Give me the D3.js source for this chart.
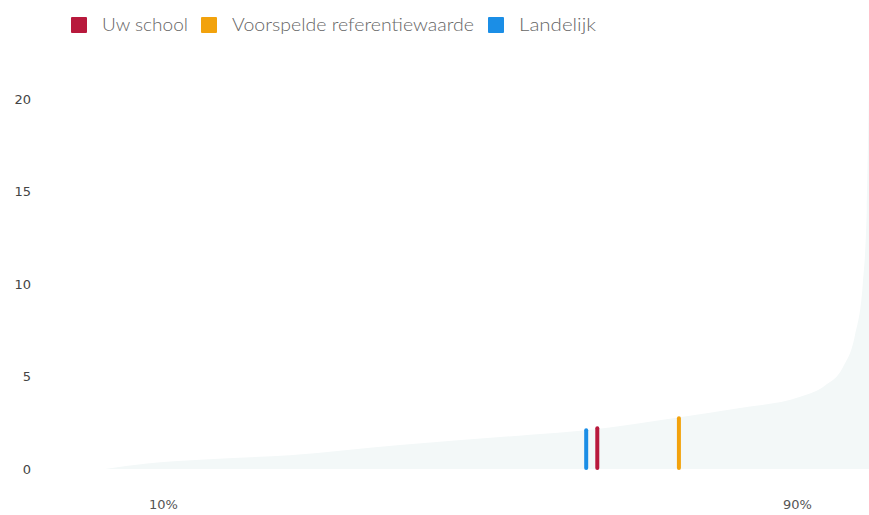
<!DOCTYPE html>
<html><head><meta charset="utf-8">
<script src="https://cdn.jsdelivr.net/npm/d3@7"></script>
<style>body{margin:0;background:#fff}svg{display:block}</style>
</head><body>
<svg id="c" width="869" height="515"></svg>
<script>
// Data
const legendLabels = ["Uw school", "Voorspelde referentiewaarde", "Landelijk"];
const legendColors = ["#b8193c", "#f2a20c", "#1b8ee6"];
const yTicks = [0, 5, 10, 15, 20];
const xTickValues = [10, 90];
const xTickLabels = ["10%", "90%"];
// distribution curve: percentile -> value
const distPct = [2.7, 8, 14.7, 26, 39.9, 56.3, 63.4, 75.2, 82.8, 90.4, 93.5, 95.8, 97.3, 98.3, 98.8, 99.1];
const distVal = [0, 0.3, 0.5, 0.75, 1.3, 1.85, 2.1, 2.8, 3.3, 3.9, 4.5, 5.5, 7.2, 10, 14, 21];
// markers
const markerNames = ["Landelijk", "Uw school", "Voorspelde referentiewaarde"];
const markerPct = [63.4, 64.8, 75.1];
const markerVal = [2.1, 2.2, 2.75];
const markerColors = ["#1b8ee6", "#b8193c", "#f2a20c"];

const svg = d3.select("#c");
const x = d3.scaleLinear().domain([10, 90]).range([163, 797]);
const y = d3.scaleLinear().domain([0, 20]).range([469, 99]);

svg.append("defs").append("clipPath").attr("id","clip")
  .append("rect").attr("x",0).attr("y",0).attr("width",869).attr("height",515);

// area
const pts = distPct.map((p,i)=>({p, v: distVal[i]}));
svg.append("path").datum(pts)
  .attr("clip-path","url(#clip)")
  .attr("fill","#f3f8f8")
  .attr("d", d3.area().x(d=>x(d.p)).y0(y(0)).y1(d=>y(d.v)).curve(d3.curveMonotoneX));

// y axis labels
const yAxis = d3.axisLeft(y).tickValues(yTicks).tickSize(0).tickPadding(0);
const ga = svg.append("g").attr("transform","translate(31,0)").call(yAxis);
ga.select(".domain").remove();
ga.selectAll("text").attr("font-family","DejaVu Sans, sans-serif").attr("font-size",13).attr("fill","#444");

// x axis labels
const xAxis = d3.axisBottom(x).tickValues(xTickValues).tickFormat((d,i)=>xTickLabels[i]).tickSize(0).tickPadding(0);
const gx = svg.append("g").attr("transform","translate(0,500)").call(xAxis);
gx.select(".domain").remove();
gx.selectAll("text").attr("font-family","DejaVu Sans, sans-serif").attr("font-size",13).attr("fill","#555");

// markers
svg.selectAll("line.m").data(markerPct).enter().append("line").attr("class","m")
  .attr("x1",d=>x(d)).attr("x2",d=>x(d))
  .attr("y1",y(0)-1).attr("y2",(d,i)=>y(markerVal[i]))
  .attr("stroke",(d,i)=>markerColors[i]).attr("stroke-width",4).attr("stroke-linecap","round");

// legend
const legX = [71, 201, 488];
const legW = [86, 242, 77];
const lg = svg.append("g");
legendLabels.forEach((t,i)=>{
  lg.append("rect").attr("x",legX[i]).attr("y",17).attr("width",16).attr("height",16).attr("fill",legendColors[i]).attr("rx",1);
  lg.append("text").attr("x",legX[i]+31).attr("y",31).text(t)
    .attr("font-family","Lato, sans-serif").attr("font-weight",300).attr("font-size",17).attr("fill","#666")
    .attr("textLength",legW[i]).attr("lengthAdjust","spacingAndGlyphs");
});
</script>
</body></html>
